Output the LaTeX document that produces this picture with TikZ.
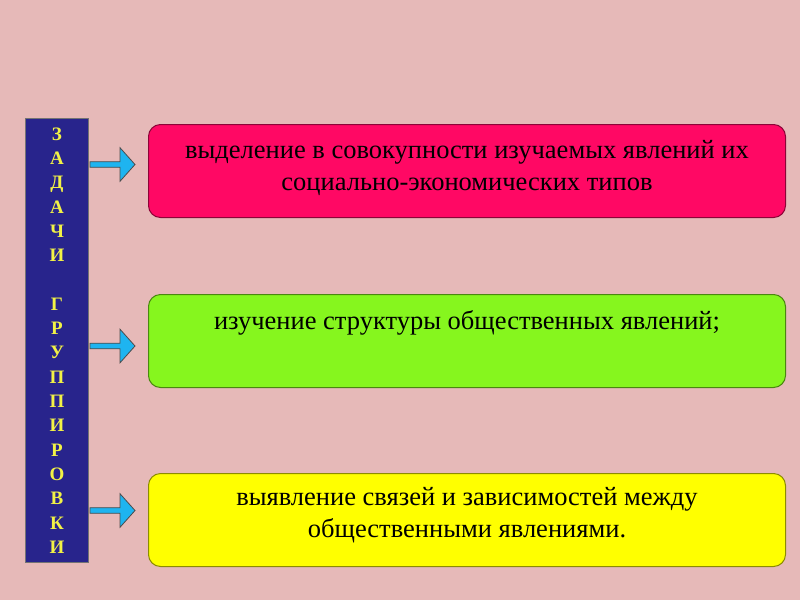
\documentclass[tikz,border=0pt]{standalone}
\usepackage{fontspec}
\setmainfont{Liberation Serif}
\usetikzlibrary{positioning,calc}

\definecolor{bgpink}{RGB}{230,185,184}
\definecolor{colblue}{RGB}{40,36,140}
\definecolor{letteryellow}{RGB}{242,242,70}
\definecolor{boxred}{RGB}{255,8,100}
\definecolor{boxgreen}{RGB}{134,246,30}
\definecolor{boxyellow}{RGB}{255,255,0}
\definecolor{arrowblue}{RGB}{30,180,240}

\tikzset{
  box/.style={draw=#1!55!black, fill=#1, rounded corners=12pt, line width=1pt,
    minimum width=637pt, minimum height=93pt, inner sep=0pt, anchor=north west},
  boxtext/.style={align=center, font=\fontsize{26.5}{32}\selectfont, text=black, inner sep=0pt},
  blockarr/.style={draw=black!70, fill=arrowblue, line width=0.8pt, line join=miter}
}

\begin{document}
\begin{tikzpicture}[x=1pt, y=-1pt]
    \fill[bgpink] (0,0) rectangle (800,600);

    % left column
    \node[draw=black!55, fill=colblue, line width=1pt, minimum width=63pt, minimum height=444pt,
          inner sep=0pt, anchor=north west, align=center, text=letteryellow,
          font=\fontsize{19}{24.3}\selectfont\bfseries] (col) at (25,118)
          {З\\А\\Д\\А\\Ч\\И\\[24.3pt]Г\\Р\\У\\П\\П\\И\\Р\\О\\В\\К\\И};

    % boxes
    \node[box=boxred] (typ) at (148,124) {};
    \node[box=boxgreen] (str) at (148,294) {};
    \node[box=boxyellow] (rel) at (148,473) {};

    \node[boxtext, below=16pt of typ.north] {выделение в совокупности изучаемых явлений их\\социально-экономических типов};
    \node[boxtext, below=16pt of str.north] {изучение структуры общественных явлений;};
    \node[boxtext, below=14pt of rel.north] {выявление связей и зависимостей между\\общественными явлениями.};

    % arrows
    \coordinate (a1) at (90,164.5);
    \coordinate (a2) at (90,346);
    \coordinate (a3) at (90,510.5);
    \foreach \a in {a1,a2,a3}
        \draw[blockarr] ($(\a)+(0,-2.8)$) -- ++(30,0) -- ++(0,-14) -- ++(15,16.8)
            -- ++(-15,16.8) -- ++(0,-14) -- ++(-30,0) -- cycle;
\end{tikzpicture}
\end{document}
